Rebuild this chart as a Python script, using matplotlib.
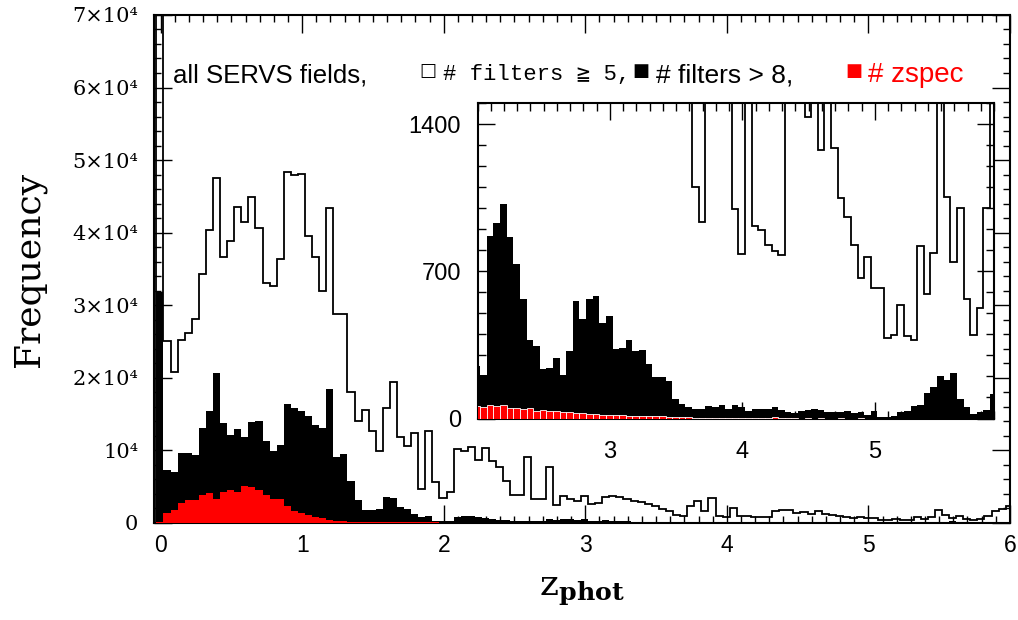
import numpy as np
import matplotlib
matplotlib.use("Agg")
import matplotlib.pyplot as plt
from matplotlib.ticker import MultipleLocator, FixedLocator, FuncFormatter

plt.rcParams["mathtext.fontset"] = "dejavuserif"

# photometric-redshift histograms, bins of 0.05 starting at z = -0.03
bin_start = -0.03
bin_width = 0.05

n_filters_ge5 = [
    120000, 25070, 20750, 25200, 26120, 28050, 34300, 40300, 47500, 36640,
    38890, 43570, 41460, 44950, 40680, 33100, 32600, 36410, 48350, 47980,
    48120, 39580, 36640, 32000, 43340, 28800, 28800, 18100, 14070, 15500,
    12700, 9900, 15900, 19400, 11890, 10560, 12440, 4700, 12720, 5690,
    3400, 4200, 10140, 9960, 10420, 8680, 10380, 8590, 7760, 5740,
    3810, 3810, 9140, 3260, 3260, 7670, 2480, 3720, 3260, 3080,
    3720, 2620, 2710, 3530, 3720, 3530, 3260, 3030, 2890, 2620,
    2340, 1880, 1600, 1099, 933, 2340, 3080, 1700, 3400, 997,
    783, 2020, 917, 897, 827, 796, 775, 1650, 1840, 1790,
    1435, 1560, 1277, 1600, 1286, 1049, 960, 827, 669, 770,
    620, 620, 384, 395, 541, 391, 375, 818, 593, 786,
    1790, 1055, 743, 1001, 568, 399, 527, 1001, 1700, 1900,
    2300,
]

n_filters_gt8 = [
    31860, 7300, 7070, 9690, 9600, 9370, 13130, 15470, 20620, 13730,
    12120, 12950, 11890, 13960, 14050, 11290, 9920, 10700, 16390, 15890,
    15470, 14740, 13500, 13040, 18460, 9140, 9500, 5790, 3170, 1790,
    1790, 1880, 3580, 3490, 2160, 1880, 1190, 780, 960, 320,
    250, 205, 870, 930, 1020, 865, 735, 568, 375, 343,
    234, 242, 289, 205, 319, 557, 475, 568, 584, 454,
    489, 332, 336, 372, 319, 327, 258, 195, 195, 177,
    92, 68, 55, 43, 45, 60, 55, 62, 45, 65,
    55, 37, 43, 43, 43, 55, 39, 29, 25, 37,
    39, 43, 39, 30, 30, 29, 37, 25, 29, 15,
    37, 8, 8, 12, 30, 36, 60, 65, 122, 150,
    200, 185, 218, 95, 55, 20, 30, 40, 115, 60,
    80,
]

n_zspec = [
    150, 1330, 1790, 2800, 3170, 3100, 3860, 4090, 3350, 4320,
    4550, 4230, 5100, 4910, 4550, 3860, 3260, 3300, 2340, 1650,
    1330, 1100, 870, 640, 450, 300, 250, 200, 170, 150,
    130, 120, 110, 100, 95, 90, 80, 75, 70, 65,
    60, 55, 62, 58, 62, 52, 50, 45, 50, 38,
    42, 35, 38, 30, 32, 26, 24, 20, 22, 18,
    18, 16, 15, 14, 14, 12, 12, 10, 10, 9,
    8, 6, 5, 4, 4, 3, 3, 3, 2, 2,
    2, 1, 1, 1, 1, 5, 1, 1, 1, 0,
    1, 0, 1, 0, 0, 1, 0, 0, 1, 0,
    0, 0, 0, 0, 0, 0, 0, 0, 0, 0,
    0, 0, 0, 0, 0, 0, 0, 0, 0, 0,
    0,
]

y_tick_values = [0, 1e4, 2e4, 3e4, 4e4, 5e4, 6e4, 7e4]
y_tick_labels = ["0", "10\u2074", "2\u00d710\u2074", "3\u00d710\u2074", "4\u00d710\u2074",
                 "5\u00d710\u2074", "6\u00d710\u2074", "7\u00d710\u2074"]
inset_x_ticks = [3, 4, 5]

edges = bin_start + bin_width * np.arange(len(n_filters_ge5) + 1)
centers = 0.5 * (edges[:-1] + edges[1:])
ge5 = np.array(n_filters_ge5, dtype=float)
gt8 = np.array(n_filters_gt8, dtype=float)
zspec = np.array(n_zspec, dtype=float)

fig = plt.figure(figsize=(10.18, 6.2), dpi=100)
ax = fig.add_axes([0.1508, 0.1565, 0.8413, 0.8194])

ax.stairs(ge5, edges, color="black", lw=1.3, zorder=1)
ax.stairs(gt8, edges, fill=True, color="black", zorder=2)
ax.stairs(zspec, edges, fill=True, color="#ff0000", zorder=3)

ax.set_xlim(-0.05, 6.0)
ax.set_ylim(0, 7e4)
ax.xaxis.set_major_locator(MultipleLocator(1))
ax.xaxis.set_minor_locator(MultipleLocator(0.1))
ax.yaxis.set_major_locator(FixedLocator(y_tick_values))
ax.yaxis.set_minor_locator(MultipleLocator(2000))
ax.yaxis.set_major_formatter(FuncFormatter(lambda v, p: y_tick_labels[int(round(v / 1e4))]))
ax.tick_params(which="both", direction="in", top=True, right=True, width=1.0)
ax.tick_params(which="major", length=13)
ax.tick_params(which="minor", length=5)
ax.tick_params(axis="x", pad=8, labelsize=16.5)
ax.tick_params(axis="y", pad=11, labelsize=15)
for lab in ax.get_xticklabels():
    lab.set_family("Liberation Sans")
for lab in ax.get_yticklabels():
    lab.set_family("DejaVu Serif")
for sp in ax.spines.values():
    sp.set_linewidth(1.5)

ax.set_ylabel("Frequency", family="DejaVu Serif", fontsize=26, labelpad=19)
ax.set_xlabel(r"$\mathrm{z}_{\mathbf{phot}}$", fontsize=26, labelpad=12)

# legend line across the top
ty = 1 - 75 / 620
fig.text(173 / 1018, ty, "all SERVS fields,", family="Liberation Sans", fontsize=18.5, va="center")
fig.text(419 / 1018, ty + 0.006, "\u25a1", family="DejaVu Sans", fontsize=13, va="center")
fig.text(443 / 1018, ty, "# filters \u2267 5,", family=["Liberation Mono", "DejaVu Sans Mono"],
         fontsize=16, va="center")
fig.text(632 / 1018, ty + 0.006, "\u25a0", family="DejaVu Sans", fontsize=13, va="center")
fig.text(656 / 1018, ty, "# filters > 8,", family="Liberation Sans", fontsize=19, va="center")
fig.text(845 / 1018, ty + 0.006, "\u25a0", family="DejaVu Sans", fontsize=13, va="center", color="#ff0000")
fig.text(868 / 1018, ty, "# zspec", family="Liberation Sans", fontsize=20, va="center", color="#ff0000")

# inset zoom on the high-redshift tail
ins = fig.add_axes([477.5 / 1018, 1 - 418.5 / 620, 516.5 / 1018, 315.5 / 620])
ins.set_facecolor("white")
ins.stairs(ge5, edges, color="black", lw=1.3, zorder=1)
ins.stairs(gt8, edges, fill=True, color="black", zorder=2)
ins.bar(centers, zspec, width=bin_width, color="#ff0000", edgecolor="white", linewidth=0.6, zorder=3)
ins.set_xlim(2.0, 5.9)
ins.set_ylim(0, 1500)
ins.xaxis.set_major_locator(FixedLocator(inset_x_ticks))
ins.xaxis.set_minor_locator(MultipleLocator(0.1))
ins.yaxis.set_major_locator(MultipleLocator(700))
ins.yaxis.set_minor_locator(MultipleLocator(100))
ins.tick_params(which="both", direction="in", top=True, right=True, width=1.0)
ins.tick_params(which="major", length=12)
ins.tick_params(which="minor", length=6)
ins.tick_params(axis="x", pad=16, labelsize=17)
ins.tick_params(axis="y", pad=12, labelsize=17)
for lab in ins.get_xticklabels() + ins.get_yticklabels():
    lab.set_family("Liberation Sans")
for sp in ins.spines.values():
    sp.set_linewidth(1.5)

fig.savefig("out.png", dpi=100)
